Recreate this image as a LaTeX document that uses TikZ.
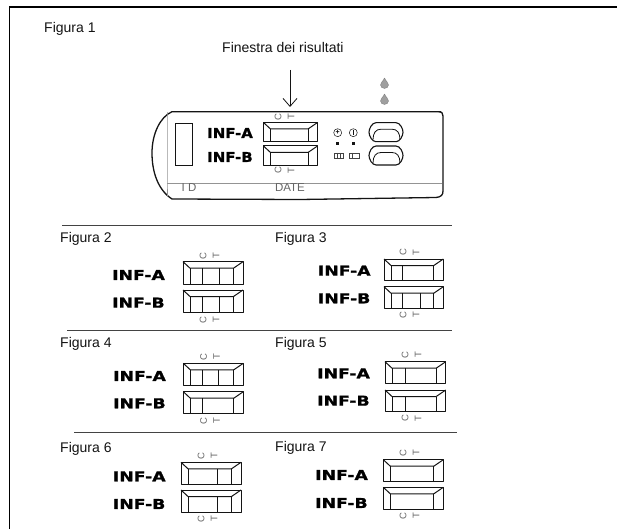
\documentclass[tikz,border=0pt]{standalone}
\usepackage{fontspec}
\setmainfont{Liberation Sans}
\newfontfamily\inffont[FakeStretch=1.27,FakeBold=1.2]{DejaVu Sans Bold}
\newfontfamily\infmainfont[FakeStretch=1.1,FakeBold=1.2]{DejaVu Sans Bold}
\usetikzlibrary{arrows.meta,calc}
\definecolor{ink}{gray}{0.08}
\definecolor{soft}{gray}{0.4}
\tikzset{
  x=1pt,y=-1pt,
  figlabel/.style={font=\fontsize{14}{16}\selectfont,text=ink,inner sep=0pt,anchor=west},
  inflabel/.style={font=\inffont\fontsize{13.6}{15}\selectfont,text=black,inner sep=0pt,anchor=west},
  infmain/.style={font=\infmainfont\fontsize{13.6}{15}\selectfont,text=black,inner sep=0pt,anchor=west},
  ctlabel/.style={font=\fontsize{9.5}{10}\selectfont,text=soft,inner sep=0pt,rotate=90},
  stamp/.style={font=\fontsize{11.5}{13}\selectfont,text=soft,inner sep=0pt},
  winline/.style={draw=ink,line width=1pt,line join=round},
  rule/.style={draw=ink!80,line width=0.9pt},
  faint/.style={draw=soft!70,line width=0.5pt},
}
% window: name, x, y, width, height, interior lines (absolute x)
\newcommand{\testwin}[6]{%
  \draw[winline] (#2,#3) rectangle ++(#4,#5);
  \draw[winline] (#2,#3) -- ++(7,6.5) -- ($(#2,#3)+(#4,0)+(-9.5,6.5)$) -- ++(9.5,-6.5);
  \draw[winline] (#2+7,#3+6.5) -- (#2+7,#3+#5);
  \draw[winline] (#2+#4-9.5,#3+6.5) -- (#2+#4-9.5,#3+#5);
  \foreach \lx in {#6} {\draw[winline] (\lx,#3+6.5) -- (\lx,#3+#5);}
  \coordinate (#1) at (#2,#3);
}
\newcommand{\ctmark}[3]{%
  \node[ctlabel] (#1c) at (#2,#3) {C};
  \node[ctlabel] (#1t) at (#2+13,#3) {T};
}
\newcommand{\inflab}[4]{\node[inflabel] (#1) at (#2,#3) {#4};}
\begin{document}
\begin{tikzpicture}
\useasboundingbox (0,0) rectangle (617,529);
\fill[white] (0,0) rectangle (617,529);
% frame
\draw[line width=1.6pt,draw=black] (9.5,529) -- (9.5,7) -- (617,7);
% figure 1
\node[figlabel] (fig1) at (44,29) {Figura 1};
\node[figlabel] (finestra) at (222,47) {Finestra dei risultati};
\coordinate (arrowtail) at (290,70);
\coordinate (arrowhead) at (290,107);
\draw[line width=0.8pt,draw=ink,-{Straight Barb[length=8pt,width=14pt]}] (arrowtail) -- (arrowhead);
% drops
\foreach \n/\dy/\dx in {a/83.5/384.5,b/99.5/384.5}{
  \fill[gray!75,draw=gray] (\dx,\dy-5.5) .. controls (\dx+1.5,\dy-2) and (\dx+4,\dy-1) .. (\dx+4,\dy+1.5)
     .. controls (\dx+4,\dy+6) and (\dx-4,\dy+6) .. (\dx-4,\dy+1.5)
     .. controls (\dx-4,\dy-1) and (\dx-1.5,\dy-2) .. (\dx,\dy-5.5);
}
% cassette
\draw[draw=ink,line width=1.3pt,line join=round]
  (441,111.7) -- (172,111.7)
  .. controls (160,117) and (152,134) .. (152,153)
  .. controls (152,172) and (158,190) .. (172,199)
  -- (300,199.5) -- (436,197.5)
  .. controls (441,197) and (443,195) .. (443,191)
  -- (443,116) .. controls (443,113) and (442,112) .. (438,111.7);
\draw[faint] (167,112) -- (167,183) -- (167,196);
\draw[faint] (167,183) -- (442,183);
\draw[draw=ink,line width=0.9pt] (175,123) rectangle (192,165);
\node[stamp] (idtext) at (189,188) {I D};
\node[stamp] (datetext) at (290,188) {DATE};
\node[infmain] (maina) at (207,133) {INF-A};
\node[infmain] (mainb) at (207,157) {INF-B};
\ctmark{maintop}{278}{117}
\ctmark{mainbot}{278}{170.5}
\testwin{wmaina}{263.5}{122.5}{54}{19.5}{}
\testwin{wmainb}{263.5}{146}{54}{19.5}{}
% status icons
\node[draw=ink,circle,line width=0.5pt,minimum size=8pt,inner sep=0pt,font=\fontsize{7}{7}\selectfont\bfseries] (plusicon) at (337.7,132.7) {+};
\node[draw=ink,circle,line width=0.5pt,minimum size=8pt,inner sep=0pt] (minicon) at (353.3,132.7) {};
\draw[ink,line width=0.6pt] (353.3,130) -- (353.3,135.5);
\fill[ink] (336.2,142.5) rectangle ++(3,3);
\fill[ink] (351.8,142.5) rectangle ++(3,3);
\draw[ink!80,line width=0.5pt] (334,153) rectangle (343,158.5);
\draw[ink!80,line width=0.5pt] (337,153) -- (337,158.5) (340,153) -- (340,158.5);
\draw[ink!80,line width=0.5pt] (349,153) rectangle (359,158.5);
\draw[ink!80,line width=0.5pt] (352,153) -- (352,158.5);
% pills
\foreach \py in {122.7,146}{
  \draw[draw=ink,line width=1.1pt,line join=round]
    (376,\py) -- (396,\py) .. controls (400,\py) and (403,\py+6) .. (403,\py+9.5)
    .. controls (403,\py+13) and (400,\py+19) .. (396,\py+19) -- (376,\py+19)
    .. controls (372,\py+19) and (369,\py+13) .. (369,\py+9.5)
    .. controls (369,\py+6) and (372,\py) .. (376,\py);
  \draw[draw=ink,line width=0.8pt]
    (373,\py+17) .. controls (373,\py+10) and (376,\py+6.5) .. (381,\py+6.5) -- (392,\py+6.5)
    .. controls (397,\py+6.5) and (400,\py+10) .. (400,\py+17);
}
% rules
\draw[rule] (62,225.7) -- (452,225.7);
\draw[rule] (67,330) -- (452,330);
\draw[rule] (74,432) -- (457,432);
% figure 2
\node[figlabel] (fig2) at (60,239) {Figura 2};
\inflab{a2}{112}{275}{INF-A}
\inflab{b2}{112}{302.7}{INF-B}
\ctmark{t2}{203}{255.7}
\ctmark{u2}{203}{320}
\testwin{w2a}{183}{261.7}{60}{22.5}{202.7,219.3}
\testwin{w2b}{183}{290}{60}{22.3}{202.7,219.3}
% figure 3
\node[figlabel] (fig3) at (275,239) {Figura 3};
\inflab{a3}{317.7}{270.7}{INF-A}
\inflab{b3}{317.7}{298.3}{INF-B}
\ctmark{t3}{403}{252.3}
\ctmark{u3}{403}{315}
\testwin{w3a}{384}{259}{59.3}{21.7}{402.7}
\testwin{w3b}{384}{286.7}{59.3}{21.6}{402.7,420}
% figure 4
\node[figlabel] (fig4) at (60,344) {Figura 4};
\inflab{a4}{113}{376}{INF-A}
\inflab{b4}{113}{403.3}{INF-B}
\ctmark{t4}{203.5}{356.7}
\ctmark{u4}{203.5}{420.7}
\testwin{w4a}{183.3}{363.3}{60}{21.7}{202.7,218.3}
\testwin{w4b}{183.3}{391.7}{60}{21.6}{202.3}
% figure 5
\node[figlabel] (fig5) at (275,344) {Figura 5};
\inflab{a5}{317}{373.3}{INF-A}
\inflab{b5}{317}{400.7}{INF-B}
\ctmark{t5}{405}{355}
\ctmark{u5}{405}{418.3}
\testwin{w5a}{385}{361.7}{60.7}{21.6}{405}
\testwin{w5b}{385}{390}{60.7}{21.7}{405}
% figure 6
\node[figlabel] (fig6) at (60,449) {Figura 6};
\inflab{a6}{112.7}{476.3}{INF-A}
\inflab{b6}{112.7}{504}{INF-B}
\ctmark{t6}{201}{455.7}
\ctmark{u6}{201}{519}
\testwin{w6a}{181}{462.3}{60}{21.7}{217.7}
\testwin{w6b}{181}{490}{60}{22.3}{217.7}
% figure 7
\node[figlabel] (fig7) at (275,448.3) {Figura 7};
\inflab{a7}{315}{475}{INF-A}
\inflab{b7}{315}{503}{INF-B}
\ctmark{t7}{403}{453}
\ctmark{u7}{403}{516}
\testwin{w7a}{383.3}{459.7}{60}{21.6}{}
\testwin{w7b}{383.3}{487.3}{60}{21.7}{}
\end{tikzpicture}
\end{document}
